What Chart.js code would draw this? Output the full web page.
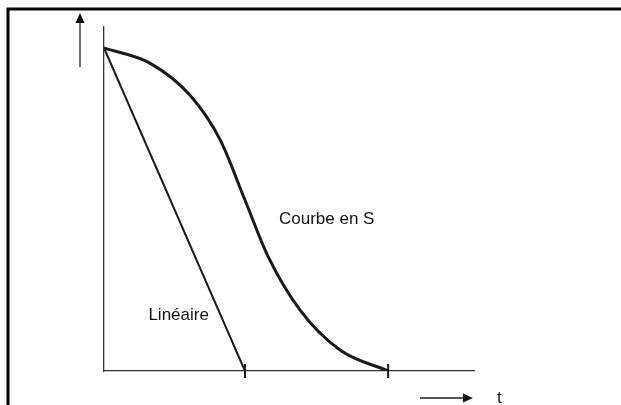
<!DOCTYPE html>
<html>
<head>
<meta charset="utf-8">
<script src="https://cdn.jsdelivr.net/npm/chart.js@4/dist/chart.umd.min.js"></script>
<style>
    html, body { margin: 0; padding: 0; background: #fff; }
    #curveChart { display: block; }
</style>
</head>
<body>
<canvas id="curveChart" width="621" height="405"></canvas>
<script>
// Descente linéaire vs courbe en S (valeurs relatives, 0..100)
const linearX = [0, 38.1];
const linearY = [93.9, 0];

const sCurveX = [0, 12.4, 23.2, 31.4, 38.1, 44.3, 53.0, 63.8, 76.8];
const sCurveY = [93.9, 89.5, 80.2, 67.2, 49.7, 33.4, 17.7, 6.1, 0];

const labelTexts = ['Linéaire', 'Courbe en S'];
const timeLabel = 't';

// fin de chaque descente, marquée d'un petit trait sur l'axe
const endMarksX = [linearX[linearX.length - 1], sCurveX[sCurveX.length - 1]];

const zip = (xs, ys) => xs.map((x, i) => ({ x: x, y: ys[i] }));

// cadre, flèches des axes et libellés
const decorations = {
    id: 'decorations',
    afterDraw(chart) {
        const ctx = chart.ctx;
        const xs = chart.scales.x;
        const ys = chart.scales.y;
        ctx.save();

        // cadre (haut + gauche)
        ctx.strokeStyle = '#000';
        ctx.lineWidth = 3;
        ctx.beginPath();
        ctx.moveTo(621, 9);
        ctx.lineTo(8, 9);
        ctx.lineTo(8, 405);
        ctx.stroke();

        ctx.strokeStyle = '#222';
        ctx.fillStyle = '#111';
        ctx.lineWidth = 1.3;

        // flèche verticale
        ctx.beginPath();
        ctx.moveTo(80, 67);
        ctx.lineTo(80, 22);
        ctx.stroke();
        ctx.beginPath();
        ctx.moveTo(80, 13);
        ctx.lineTo(84.5, 23);
        ctx.lineTo(75.5, 23);
        ctx.closePath();
        ctx.fill();

        // flèche horizontale
        ctx.beginPath();
        ctx.moveTo(420, 398);
        ctx.lineTo(464, 398);
        ctx.stroke();
        ctx.beginPath();
        ctx.moveTo(473, 398);
        ctx.lineTo(463, 393.5);
        ctx.lineTo(463, 402.5);
        ctx.closePath();
        ctx.fill();

        ctx.fillStyle = '#111';
        ctx.font = '17px "Liberation Sans", Arial, sans-serif';
        ctx.textBaseline = 'middle';
        ctx.textAlign = 'left';
        ctx.fillText(timeLabel, 497, 398);

        // libellés des courbes, placés en unités des axes
        ctx.fillText(labelTexts[0], xs.getPixelForValue(12), ys.getPixelForValue(16.3));
        ctx.fillText(labelTexts[1], xs.getPixelForValue(47.3), ys.getPixelForValue(44.2));

        ctx.restore();
    }
};

const ctx = document.getElementById('curveChart').getContext('2d');
const curveChart = new Chart(ctx, {
    type: 'line',
    data: {
        datasets: [
            {
                label: labelTexts[0],
                data: zip(linearX, linearY),
                borderColor: '#1a1a1a',
                borderWidth: 2,
                pointRadius: 0,
                tension: 0,
                fill: false
            },
            {
                label: labelTexts[1],
                data: zip(sCurveX, sCurveY),
                borderColor: '#1a1a1a',
                borderWidth: 3,
                pointRadius: 0,
                cubicInterpolationMode: 'monotone',
                fill: false
            },
            {
                // traits de fin sur l'axe du temps
                type: 'scatter',
                data: endMarksX.map(x => ({ x: x, y: 0 })),
                pointStyle: 'line',
                rotation: 90,
                pointRadius: 7,
                borderColor: '#1a1a1a',
                borderWidth: 2,
                clip: false
            }
        ]
    },
    plugins: [decorations],
    options: {
        responsive: false,
        animation: false,
        devicePixelRatio: 1,
        layout: {
            padding: { left: 104, right: 147, top: 27, bottom: 34 }
        },
        scales: {
            x: {
                type: 'linear',
                min: 0,
                max: 100,
                ticks: { display: false },
                grid: { display: false },
                border: { display: true, color: '#333', width: 1.3 },
                afterFit: (scale) => { scale.height = 0; }
            },
            y: {
                type: 'linear',
                min: 0,
                max: 100,
                ticks: { display: false },
                grid: { display: false },
                border: { display: true, color: '#333', width: 1.3 },
                afterFit: (scale) => { scale.width = 0; }
            }
        },
        plugins: {
            legend: { display: false },
            tooltip: { enabled: false }
        }
    }
});
</script>
</body>
</html>
